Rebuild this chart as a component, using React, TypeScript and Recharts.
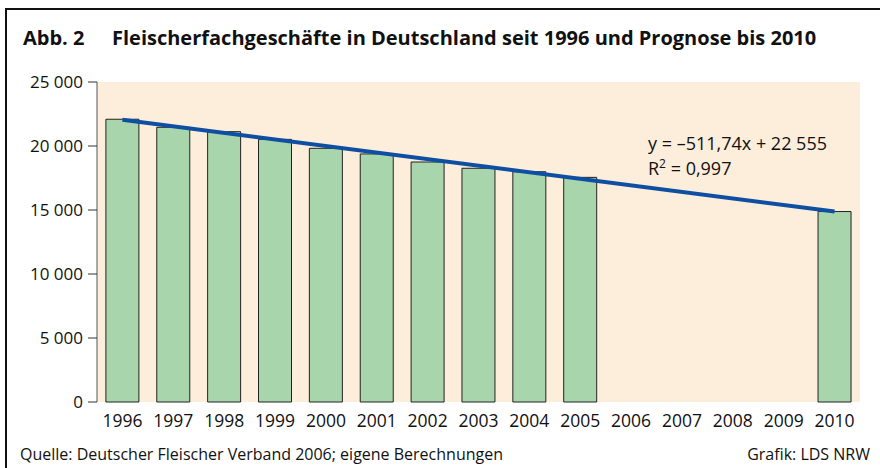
import React from 'react';
import { ComposedChart, Bar, Line, XAxis, YAxis, CartesianGrid } from 'recharts';

const years = ['1996','1997','1998','1999','2000','2001','2002','2003','2004','2005','2006','2007','2008','2009','2010'];
const shops: (number | null)[] = [22090, 21460, 21120, 20520, 19820, 19380, 18750, 18260, 17990, 17550, null, null, null, null, 14880];
const trend: (number | null)[] = [22043, null, null, null, null, null, null, null, null, null, null, null, null, null, 14879];
const yTicks = [0, 5000, 10000, 15000, 20000, 25000];

const data = years.map((y, i) => ({ year: y, shops: shops[i], trend: trend[i] }));

const font = '"Open Sans", sans-serif';
const fmt = (v: number) => v.toLocaleString('en-US').replace(/,/g, ' ');

export default function App() {
  return (
    <div style={{ position: 'absolute', left: 0, top: 0, width: 880, height: 468, background: '#fff', fontFamily: font, overflow: 'hidden' }}>
      <div style={{ position: 'absolute', left: 5, top: 8, width: 880, height: 470, borderLeft: '2px solid #111', borderTop: '2px solid #111' }} />
      <div style={{ position: 'absolute', left: 23, top: 24, fontSize: 20, lineHeight: '27px', fontWeight: 700, color: '#111', whiteSpace: 'nowrap' }}>
        <span>Abb. 2</span>
        <span style={{ position: 'absolute', left: 89 }}>Fleischerfachgeschäfte in Deutschland seit 1996 und Prognose bis 2010</span>
      </div>
      <div style={{ position: 'absolute', left: 0, top: 0 }}>
        <ComposedChart width={880} height={468} data={data} margin={{ top: 82, right: 20, bottom: 36, left: 0 }} barCategoryGap="17.5%">
          <CartesianGrid fill="#fdeedb" stroke="none" horizontal={false} vertical={false} />
          <XAxis dataKey="year" axisLine={false} tickLine={false} interval={0} tickSize={0} tickMargin={13}
            tick={{ fontSize: 17.5, fill: '#111', fontFamily: font }} height={30} />
          <YAxis domain={[0, 25000]} ticks={yTicks} tickFormatter={fmt} interval={0}
            axisLine={{ stroke: '#555', strokeWidth: 1 }} tickLine={{ stroke: '#333' }} tickSize={9} tickMargin={5}
            tick={{ fontSize: 17, fill: '#111', fontFamily: font }} width={97} />
          <Bar dataKey="shops" fill="#a8d5ac" stroke="#222" strokeWidth={1} isAnimationActive={false} />
          <Line dataKey="trend" connectNulls stroke="#0f4fa3" strokeWidth={4} dot={false} isAnimationActive={false} />
        </ComposedChart>
      </div>
      <div style={{ position: 'absolute', left: 648, top: 131, fontSize: 18, color: '#111', lineHeight: '25px', whiteSpace: 'nowrap' }}>
        <div>y = –511,74x + 22 555</div>
        <div>R<sup style={{ fontSize: 12, verticalAlign: 'top', position: 'relative', top: -5 }}>2</sup> = 0,997</div>
      </div>
      <div style={{ position: 'absolute', left: 20, top: 443, fontSize: 16, lineHeight: '22px', color: '#111', whiteSpace: 'nowrap' }}>
        Quelle: Deutscher Fleischer Verband 2006; eigene Berechnungen
      </div>
      <div style={{ position: 'absolute', right: 10, top: 443, fontSize: 16, lineHeight: '22px', color: '#111', whiteSpace: 'nowrap' }}>
        Grafik: LDS NRW
      </div>
    </div>
  );
}
